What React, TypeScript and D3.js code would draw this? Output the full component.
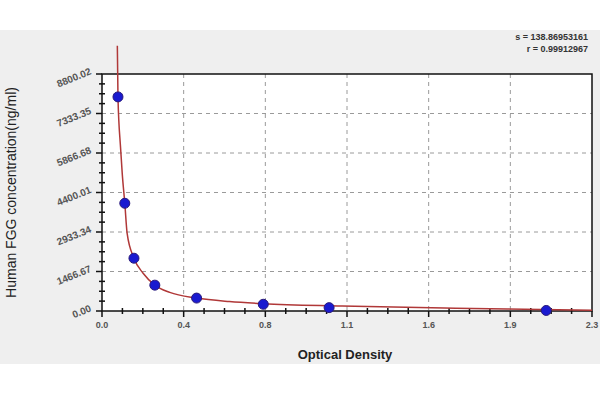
import * as d3 from "d3";

const xTickLabels = ["0.0", "0.4", "0.8", "1.1", "1.6", "1.9", "2.3"];
const yTickLabels = ["0.00", "1466.67", "2933.34", "4400.01", "5866.68", "7333.35", "8800.02"];

// standard points (optical density, concentration)
const pointOD = [0.075, 0.107, 0.15, 0.248, 0.444, 0.757, 1.066, 2.085];
const pointConc = [7950, 4000, 1960, 960, 480, 250, 125, 20];

// fitted curve
const curveOD = [0.072, 0.075, 0.087, 0.095, 0.107, 0.118, 0.15, 0.193, 0.248, 0.318, 0.444, 0.598, 0.757, 1.127, 1.66, 2.22, 2.3];
const curveConc = [9850, 7950, 6075, 5100, 4000, 2880, 1960, 1400, 960, 690, 480, 350, 270, 185, 100, 37, 25];

const statS = "s = 138.86953161";
const statR = "r = 0.99912967";

const width = 600;
const height = 400;
const margin = { top: 74, right: 8, bottom: 89, left: 102 };

export default function App() {
  const xMax = 2.3;
  const yMax = 8800.02;
  const x = d3.scaleLinear().domain([0, xMax]).range([margin.left, width - margin.right]);
  const y = d3.scaleLinear().domain([0, yMax]).range([height - margin.bottom, margin.top]);

  const xMajors = xTickLabels.map((_, i) => (i * xMax) / (xTickLabels.length - 1));
  const yMajors = yTickLabels.map((_, i) => (i * yMax) / (yTickLabels.length - 1));
  const xMinors: number[] = [];
  for (let i = 0; i < xMajors.length - 1; i++)
    for (let k = 1; k < 4; k++) xMinors.push(xMajors[i] + ((xMajors[i + 1] - xMajors[i]) * k) / 4);
  const yMinors: number[] = [];
  for (let i = 0; i < yMajors.length - 1; i++)
    for (let k = 1; k < 4; k++) yMinors.push(yMajors[i] + ((yMajors[i + 1] - yMajors[i]) * k) / 4);

  const line = d3
    .line<number>()
    .x((d) => x(d))
    .y((_, i) => y(curveConc[i]))
    .curve(d3.curveMonotoneX);

  const x0 = x(0);
  const y0 = y(0);
  const font = "'Liberation Sans', Arial, sans-serif";

  return (
    <svg width={width} height={height} style={{ position: "absolute", left: 0, top: 0 }} fontFamily={font}>
      <rect x={0} y={0} width={width} height={height} fill="#ffffff" />
      <rect x={0} y={30} width={width} height={334} fill="#efefef" />
      <rect x={x0} y={y(yMax)} width={x(xMax) - x0} height={y0 - y(yMax)} fill="#ffffff" />

      {/* grid */}
      {xMajors.slice(1, -1).map((v, i) => (
        <line key={"gx" + i} x1={x(v)} x2={x(v)} y1={y(yMax)} y2={y0} stroke="#9a9a9a" strokeDasharray="4,4" />
      ))}
      {yMajors.slice(1, -1).map((v, i) => (
        <line key={"gy" + i} x1={x0} x2={x(xMax)} y1={y(v)} y2={y(v)} stroke="#9a9a9a" strokeDasharray="4,4" />
      ))}

      {/* frame */}
      <rect x={x0} y={y(yMax)} width={x(xMax) - x0} height={y0 - y(yMax)} fill="none" stroke="#111" strokeWidth={1.5} />

      {/* x ticks */}
      {xMajors.map((v, i) => (
        <line key={"xt" + i} x1={x(v)} x2={x(v)} y1={y0} y2={y0 + 6} stroke="#111" strokeWidth={1.5} />
      ))}
      {xMinors.map((v, i) => (
        <line key={"xm" + i} x1={x(v)} x2={x(v)} y1={y0 - 3} y2={y0 + 3} stroke="#111" strokeWidth={1.5} />
      ))}
      {xMajors.map((v, i) => (
        <text key={"xl" + i} x={x(v)} y={y0 + 17} textAnchor="middle" fontSize={9} fontWeight="bold" fill="#555">
          {xTickLabels[i]}
        </text>
      ))}

      {/* y ticks */}
      {yMajors.map((v, i) => (
        <line key={"yt" + i} x1={x0 - 6} x2={x0} y1={y(v)} y2={y(v)} stroke="#111" strokeWidth={1.5} />
      ))}
      {yMinors.map((v, i) => (
        <line key={"ym" + i} x1={x0 - 3} x2={x0 + 3} y1={y(v)} y2={y(v)} stroke="#111" strokeWidth={1.5} />
      ))}
      {yMajors.map((v, i) => (
        <text
          key={"yl" + i}
          x={x0 - 10}
          y={y(v)}
          textAnchor="end"
          fontSize={10}
          fontWeight="bold"
          fill="#555"
          transform={`rotate(-22 ${x0 - 10} ${y(v)})`}
        >
          {yTickLabels[i]}
        </text>
      ))}

      {/* curve */}
      <path d={line(curveOD) || ""} fill="none" stroke="#b03838" strokeWidth={1.5} />

      {/* points */}
      {pointOD.map((d, i) => (
        <circle key={"p" + i} cx={x(d)} cy={y(pointConc[i])} r={5} fill="#1a1ad0" stroke="#2a1a7a" strokeWidth={1} />
      ))}

      {/* labels */}
      <text x={345} y={359} textAnchor="middle" fontSize={13} fontWeight="bold" fill="#222">
        Optical Density
      </text>
      <text
        x={0}
        y={0}
        textAnchor="middle"
        fontSize={14}
        fill="#222"
        transform={`translate(16,${(y0 + y(yMax)) / 2}) rotate(-90)`}
      >
        Human FGG concentration(ng/ml)
      </text>
      <text x={588} y={40} textAnchor="end" fontSize={9} fontWeight="bold" fill="#333">
        {statS}
      </text>
      <text x={588} y={52} textAnchor="end" fontSize={9} fontWeight="bold" fill="#333">
        {statR}
      </text>
    </svg>
  );
}
